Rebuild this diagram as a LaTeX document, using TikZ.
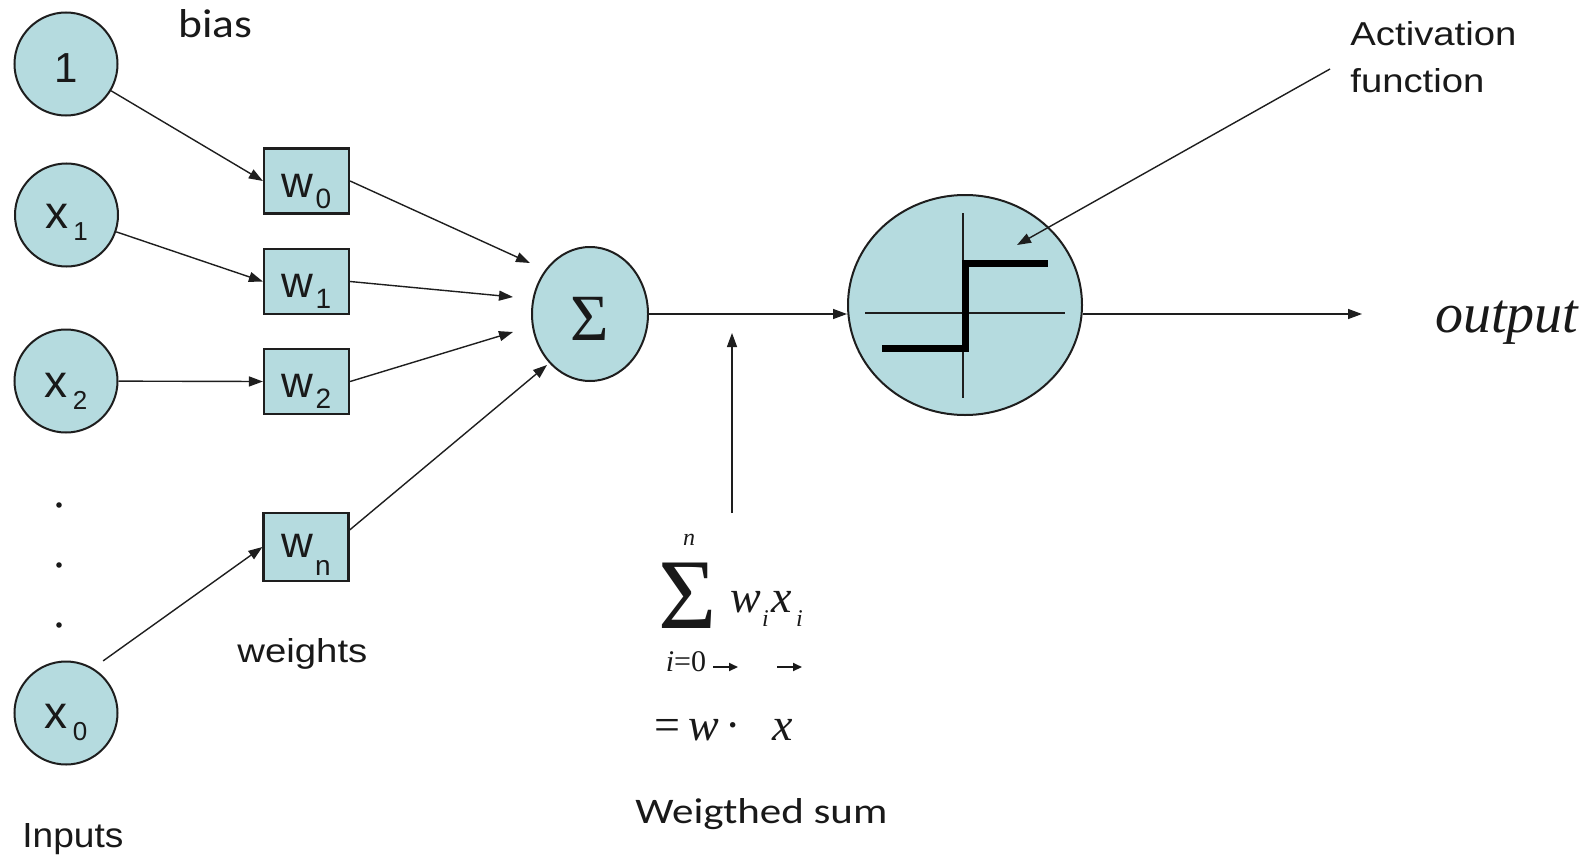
\documentclass[tikz,border=0pt]{standalone}
\usepackage{fontspec}
\usepackage{graphicx}
\setmainfont{Liberation Sans}
\newfontfamily\serif{Liberation Serif}
\newfontfamily\carlito{Carlito}
\usetikzlibrary{arrows.meta,shapes.geometric,calc}
\definecolor{fc}{RGB}{181,219,223}
\definecolor{lc}{RGB}{30,30,30}
\definecolor{tc}{RGB}{25,25,25}
\newcommand\xlab[2]{{\fontsize{23}{23}\selectfont #1}\kern2.5pt\raisebox{-6pt}{\fontsize{13}{13}\selectfont #2}}
\newcommand\wlab[3]{{\fontsize{22}{22}\selectfont #1}\kern1pt\raisebox{-#3}{\fontsize{14}{14}\selectfont #2}}
\begin{document}
\begin{tikzpicture}[x=0.5pt,y=-0.5pt,
  inpnode/.style={circle,draw=lc,fill=fc,line width=1pt,minimum size=51.5pt,inner sep=0pt,text=tc,text depth=0pt},
  wbox/.style={rectangle,draw=lc,fill=fc,line width=1.1pt,minimum width=42.5pt,minimum height=32.5pt,inner sep=0pt,text=tc,text depth=0pt},
  arr/.style={draw=lc,line width=0.7pt,-{Triangle[length=7pt,width=5pt]}},
  vecarr/.style={draw=tc,line width=1pt,-{Triangle[length=4.5pt,width=4pt]}},
  lbl/.style={inner sep=0pt,anchor=base west,text=tc}]
\fill[white] (0,0) rectangle (1588,856);
\useasboundingbox (0,0) rectangle (1588,856);

% inputs
\node[inpnode,text height=19pt,font={\fontsize{21}{21}\selectfont}] (one) at (66,64) {1};
\node[inpnode,text height=13pt] (x1) at (66.5,215) {\xlab{x}{1}};
\node[inpnode,text height=16pt] (x2) at (66,381) {\xlab{x}{2}};
\node[inpnode,text height=15pt] (x0) at (66,713) {\xlab{x}{0}};
\fill[tc] (59,505) circle[radius=1.4pt];
\fill[tc] (59,565) circle[radius=1.4pt];
\fill[tc] (59,625) circle[radius=1.4pt];

% weights
\node[wbox,text height=16pt] (w0) at (306.5,181) {\wlab{w}{0}{5.5pt}};
\node[wbox,text height=15.5pt] (w1) at (306.5,281.5) {\wlab{w}{1}{5.5pt}};
\node[wbox,text height=15.5pt] (w2) at (306.5,381.5) {\wlab{w}{2}{5.5pt}};
\node[wbox,text height=10pt,minimum height=34pt] (wn) at (306,547) {\wlab{w}{n}{9pt}};

% summation and activation
\node[ellipse,draw=lc,fill=fc,line width=1pt,minimum width=58pt,minimum height=67pt,inner sep=0pt,text=tc,text height=26pt,text depth=0pt,font={\serif\fontsize{33}{33}\selectfont}] (sig) at (590,314) {Σ};
\node[ellipse,draw=lc,fill=fc,line width=1pt,minimum width=117pt,minimum height=110pt,inner sep=0pt] (act) at (965,305) {};
\draw[lc,line width=1pt] (865,313) -- (1065,313);
\draw[lc,line width=1pt] (963,213) -- (963,398);
\draw[black,line width=3.5pt] (882,348) -- (965,348) -- (965,263) -- (1048,263);

% input arrows
\draw[arr] (one) -- (w0.west);
\draw[arr] (x1) -- (w1.west);
\draw[arr] (x2) -- (w2.west);
\draw[arr] ([yshift=7.5pt]x0.north east) -- (wn.west);

% weight arrows
\coordinate (s0) at (530,263);
\coordinate (s1) at (513,297);
\coordinate (s2) at (513,332);
\coordinate (s3) at (547,365);
\draw[arr] (w0.east) -- (s0);
\draw[arr] (w1.east) -- (s1);
\draw[arr] (w2.east) -- (s2);
\draw[arr] ([yshift=8.5pt]wn.east) -- (s3);

\draw[arr] (sig.east) -- (sig.east -| act.west);
\coordinate (outend) at (1362,314);
\draw[arr] (act.east |- sig.east) -- (outend);

% pointers
\coordinate (fb) at (732,513);
\coordinate (ft) at (732,333);
\draw[arr] (fb) -- (ft);
\coordinate (alab) at (1330,69);
\coordinate (atip) at (1017,245);
\draw[arr] (alab) -- (atip);

% formula
\node[inner sep=0pt,anchor=base,text=tc,text depth=0pt,font={\serif\fontsize{50}{50}\selectfont}] (bigsum) at (688,628) {Σ};
\node[inner sep=0pt,anchor=base,text=tc,font={\serif\itshape\fontsize{12}{12}\selectfont}] (sumup) at (689,545) {n};
\node[inner sep=0pt,anchor=base,text=tc,font={\serif\fontsize{15}{15}\selectfont}] (sumlo) at (686,671) {\textit{i}=0};
\node[lbl,font={\serif\itshape\fontsize{23}{23}\selectfont}] (wx) at (730,612) {w\kern0.5pt\raisebox{-7pt}{\fontsize{12}{12}\selectfont i}\kern1.5pt x\kern2pt\raisebox{-7pt}{\fontsize{12}{12}\selectfont i}};
\coordinate (va1s) at (713,667);
\coordinate (va1e) at (738,667);
\coordinate (va2s) at (777,667);
\coordinate (va2e) at (802,667);
\draw[vecarr] (va1s) -- (va1e);
\draw[vecarr] (va2s) -- (va2e);
\node[lbl,font={\serif\fontsize{23}{23}\selectfont}] (eq) at (654,740) {=\kern4pt\textit{w}\kern3pt·\kern16pt\textit{x}};

% labels
\node[lbl] (bias) at (178,38) {\resizebox{37pt}{14pt}{\carlito bias}};
\node[lbl] (weights) at (237,662) {\resizebox{65pt}{12pt}{weights}};
\node[lbl] (inputs) at (22,847) {\resizebox{50.5pt}{12pt}{Inputs}};
\node[lbl] (wsum) at (635,823) {\resizebox{126pt}{12.5pt}{\carlito Weigthed sum}};
\node[lbl] (actl1) at (1350,46) {\resizebox{83pt}{12pt}{Activation}};
\node[lbl] (actl2) at (1350,92) {\resizebox{67pt}{12pt}{function}};
\node[lbl,font={\serif\itshape\fontsize{28}{28}\selectfont}] (out) at (1435,332) {output};
\end{tikzpicture}
\end{document}
